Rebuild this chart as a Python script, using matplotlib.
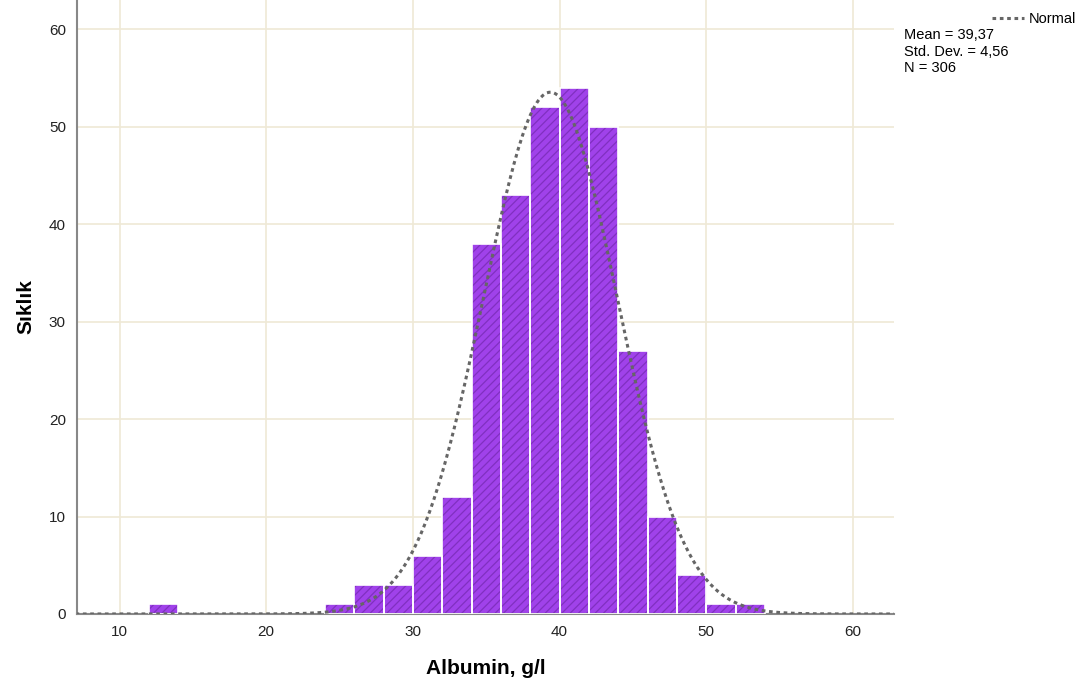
import numpy as np
import matplotlib
matplotlib.use("Agg")
import matplotlib.pyplot as plt

plt.rcParams['font.family'] = ['Liberation Sans', 'DejaVu Sans']
plt.rcParams['hatch.linewidth'] = 0.9

# histogram bins (width 2) and counts
bin_left = [12, 24, 26, 28, 30, 32, 34, 36, 38, 40, 42, 44, 46, 48, 50, 52]
counts = [1, 1, 3, 3, 6, 12, 38, 43, 52, 54, 50, 27, 10, 4, 1, 1]
bin_width = 2
mean, sd, n = 39.37, 4.56, 306

fig = plt.figure(figsize=(10.88, 6.94), dpi=100)
ax = fig.add_axes([0.0708, 0.1153, 0.7509, 0.8847])

ax.bar(bin_left, counts, width=bin_width, align='edge', color='#a042ea',
       edgecolor='#8030c0', linewidth=0, hatch='////', zorder=2)
ax.bar(bin_left, counts, width=bin_width, align='edge', fill=False,
       edgecolor='white', linewidth=1.2, zorder=3)

x = np.linspace(7, 63, 400)
y = n * bin_width / (sd * np.sqrt(2 * np.pi)) * np.exp(-0.5 * ((x - mean) / sd) ** 2)
ax.plot(x, y, color='#666666', linestyle=(0, (1.2, 1.2)), linewidth=2.2,
        zorder=4, label='Normal')

ax.set_xlim(7.1, 62.8)
ax.set_ylim(0, 63)
ax.set_xticks([10, 20, 30, 40, 50, 60])
ax.set_yticks([0, 10, 20, 30, 40, 50, 60])
ax.grid(True, color='#efe9d6', linewidth=1.2, zorder=0)
ax.set_axisbelow(True)
for s in ['top', 'right']:
    ax.spines[s].set_visible(False)
for s in ['left', 'bottom']:
    ax.spines[s].set_color('#888888')
    ax.spines[s].set_linewidth(1.5)
ax.tick_params(length=0, labelsize=11, colors='#222222', pad=8)

ax.set_xlabel('Albumin, g/l', fontsize=15, fontweight='bold', labelpad=14)
ax.set_ylabel('Sıklık', fontsize=15, fontweight='bold', labelpad=10)

fig.legend(handles=ax.lines, loc='upper left', bbox_to_anchor=(0.912, 0.983),
           frameon=False, fontsize=10.5, handlelength=2.2, handletextpad=0.3,
           borderpad=0, borderaxespad=0)
fig.text(0.831, 0.960, 'Mean = 39,37\nStd. Dev. = 4,56\nN = 306',
         fontsize=10.5, va='top', ha='left', linespacing=1.25)

fig.savefig('out.png', dpi=100)
